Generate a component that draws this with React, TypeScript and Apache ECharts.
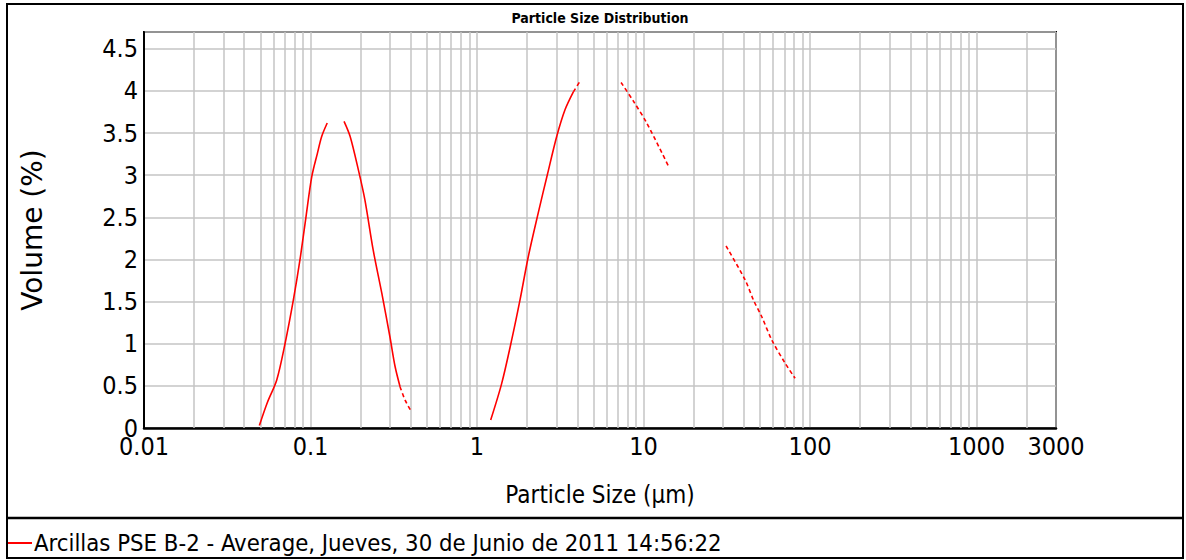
import React, { useEffect, useRef } from "react";
import * as echarts from "echarts";

// ---- data (particle size in µm, volume in %) ----
const fineRiseSizes = [0.0493, 0.055, 0.0627, 0.0703, 0.0789, 0.0865, 0.094, 0.1017, 0.110, 0.1167, 0.126];
const fineRiseVolumes = [0.03, 0.30, 0.57, 1.0, 1.52, 2.0, 2.51, 2.98, 3.26, 3.46, 3.62];

const fineFallSizes = [0.159, 0.173, 0.194, 0.212, 0.238, 0.268, 0.300, 0.322, 0.345];
const fineFallVolumes = [3.64, 3.46, 3.06, 2.71, 2.11, 1.60, 1.08, 0.73, 0.49];

const fineTailSizes = [0.345, 0.37, 0.405];
const fineTailVolumes = [0.49, 0.33, 0.19];

const coarseRiseSizes = [1.208, 1.407, 1.615, 1.812, 2.03, 2.33, 2.64, 3.01, 3.38, 3.79];
const coarseRiseVolumes = [0.095, 0.53, 1.045, 1.52, 2.03, 2.55, 3.0, 3.46, 3.78, 3.99];

const coarseTopSizes = [3.79, 4.2];
const coarseTopVolumes = [3.99, 4.13];

const coarseFallSizes = [7.33, 8.69, 10.45, 14.1];
const coarseFallVolumes = [4.10, 3.88, 3.62, 3.11];

const tailSizes = [31.3, 40.7, 45.7, 51.3, 58.9, 70.8, 81.3];
const tailVolumes = [2.16, 1.76, 1.52, 1.32, 1.045, 0.77, 0.59];

const xTickLabels = ["0.01", "0.1", "1", "10", "100", "1000", "3000"];
const minorGridValues = [
  0.02, 0.03, 0.04, 0.05, 0.06, 0.07, 0.08, 0.09,
  0.2, 0.3, 0.4, 0.5, 0.6, 0.7, 0.8, 0.9,
  2, 3, 4, 5, 6, 7, 8, 9,
  20, 30, 40, 50, 60, 70, 80, 90,
  200, 300, 400, 500, 600, 700, 800, 900,
  2000,
];

const seriesName = "Arcillas PSE B-2 - Average, Jueves, 30 de Junio de 2011 14:56:22";
const RED = "#ff0000";
const NARROW = "'DejaVu Sans Condensed', 'Liberation Sans Narrow', sans-serif";

const zip = (xs: number[], ys: number[]) => xs.map((x, i) => [x, ys[i]]);

export default function App() {
  const ref = useRef<HTMLDivElement>(null);

  useEffect(() => {
    if (!ref.current) return;
    const chart = echarts.init(ref.current, null, { renderer: "svg" });

    const lineSeries = (xs: number[], ys: number[], dashed: boolean) => ({
      type: "line",
      name: seriesName,
      data: zip(xs, ys),
      showSymbol: false,
      symbol: "none",
      smooth: 0.3,
      z: 5,
      lineStyle: { color: RED, width: 1.6, type: dashed ? [4, 3] : "solid" },
      itemStyle: { color: RED },
    });

    chart.setOption({
      animation: false,
      backgroundColor: "#ffffff",
      title: {
        text: "Particle Size Distribution",
        left: 600,
        textAlign: "center",
        top: 11,
        padding: 0,
        textStyle: { fontFamily: NARROW, fontSize: 14, fontWeight: "bold", color: "#000" },
      },
      legend: {
        data: [{ name: seriesName, icon: "rect" }],
        left: 7,
        top: 529,
        padding: 0,
        itemWidth: 25,
        itemHeight: 2,
        itemGap: 2,
        textStyle: { fontFamily: NARROW, fontSize: 23.7, color: "#000", lineHeight: 28, padding: [0, 0, 0, -3] },
        selectedMode: false,
      },
      grid: {
        left: 144,
        right: 130,
        top: 32,
        bottom: 132,
        show: true,
        borderColor: "#000",
        borderWidth: 2,
        backgroundColor: "#fff",
      },
      xAxis: {
        type: "log",
        logBase: 10,
        min: 0.01,
        max: 3000,
        name: "Particle Size (µm)",
        nameLocation: "middle",
        nameGap: 55,
        nameTextStyle: { fontFamily: NARROW, fontSize: 24, color: "#000" },
        axisLine: { show: true, lineStyle: { color: "#000", width: 2.5 } },
        axisTick: { show: false },
        axisLabel: {
          fontFamily: NARROW,
          fontSize: 25,
          color: "#000",
          margin: 6,
          showMinLabel: true,
          showMaxLabel: true,
          formatter: (v: number) => {
            const s = xTickLabels.find((t) => Math.abs(Math.log10(Number(t)) - Math.log10(v)) < 1e-6);
            return s ?? "";
          },
        },
        splitLine: { show: true, lineStyle: { color: "#c4c4c4", width: 1.5 } },
      },
      yAxis: {
        type: "value",
        min: 0,
        max: 4.7,
        interval: 0.5,
        name: "Volume (%)",
        nameLocation: "middle",
        nameGap: 98,
        nameTextStyle: { fontFamily: "'DejaVu Sans', sans-serif", fontSize: 28, color: "#000" },
        axisLine: { show: true, lineStyle: { color: "#000", width: 2 } },
        axisTick: { show: false },
        axisLabel: {
          fontFamily: NARROW,
          fontSize: 25,
          color: "#000",
          margin: 6,
          showMaxLabel: false,
          formatter: (v: number) => (Math.abs(v * 2 - Math.round(v * 2)) < 1e-6 ? String(v) : ""),
        },
        splitLine: { show: true, lineStyle: { color: "#c4c4c4", width: 1.5 } },
      },
      graphic: [
        {
          type: "rect",
          shape: { x: 7, y: 4, width: 1176, height: 554 },
          style: { fill: "none", stroke: "#000", lineWidth: 2 },
          silent: true,
          z: 100,
        },
        {
          type: "line",
          shape: { x1: 7, y1: 518, x2: 1183, y2: 518 },
          style: { stroke: "#000", lineWidth: 2.5 },
          silent: true,
          z: 100,
        },
      ],
      series: [
        {
          type: "line",
          name: "grid",
          data: [],
          z: 1,
          silent: true,
          markLine: {
            silent: true,
            symbol: "none",
            label: { show: false },
            lineStyle: { color: "#c4c4c4", width: 1.5, type: "solid" },
            data: minorGridValues.map((v) => ({ xAxis: v })),
            z: 1,
          },
        },
        lineSeries(fineRiseSizes, fineRiseVolumes, false),
        lineSeries(fineFallSizes, fineFallVolumes, false),
        lineSeries(fineTailSizes, fineTailVolumes, true),
        lineSeries(coarseRiseSizes, coarseRiseVolumes, false),
        lineSeries(coarseTopSizes, coarseTopVolumes, true),
        lineSeries(coarseFallSizes, coarseFallVolumes, true),
        lineSeries(tailSizes, tailVolumes, true),
      ],
    });

    return () => chart.dispose();
  }, []);

  return (
    <div
      ref={ref}
      style={{ position: "fixed", left: 0, top: 0, width: 1186, height: 560, background: "#fff" }}
    />
  );
}
